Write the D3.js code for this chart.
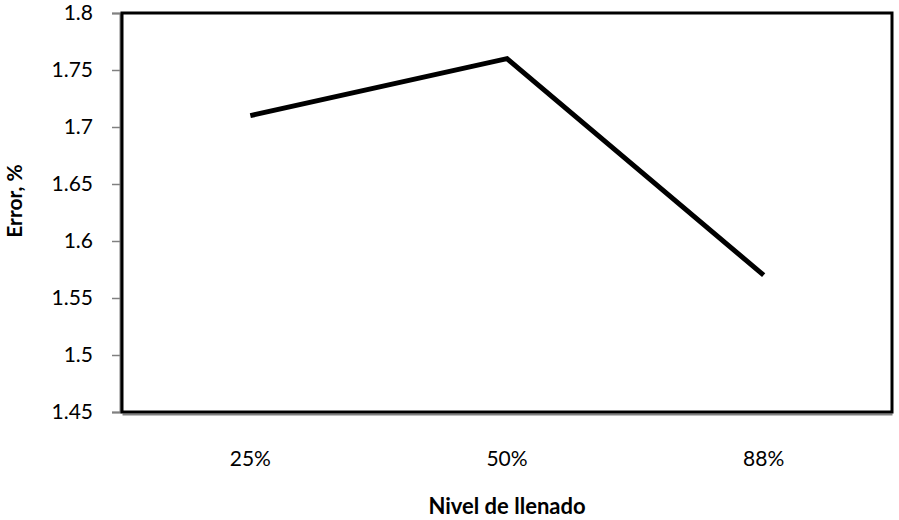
<!DOCTYPE html>
<html lang="es">
<head>
<meta charset="utf-8">
<title>Error vs nivel de llenado</title>
<script src="https://d3js.org/d3.v7.min.js"></script>
<style>
  body { margin: 0; background: #fff; }
  text { font-family: Lato, "Open Sans", sans-serif; fill: #000; }
</style>
</head>
<body>
<svg id="chart" width="899" height="520"></svg>
<script>
// datos
var niveles = ["25%", "50%", "88%"];
var errores = [1.71, 1.76, 1.57];
var yTicks = [1.45, 1.5, 1.55, 1.6, 1.65, 1.7, 1.75, 1.8];

var svg = d3.select("#chart");
var m = {left: 122, right: 892, top: 13, bottom: 412};

var x = d3.scaleBand().domain(niveles).range([m.left, m.right]);
var y = d3.scaleLinear().domain([1.45, 1.8]).range([m.bottom, m.top]);

// eje y (linea gris + marcas)
var yAxis = d3.axisLeft(y).tickValues(yTicks).tickSize(8).tickPadding(19)
  .tickFormat(function(d){ return String(+d.toFixed(2)); });
var gy = svg.append("g").attr("transform", "translate(" + (m.left - 2) + ",0)").call(yAxis);
gy.select(".domain").attr("stroke", "#808080").attr("stroke-width", 2);
gy.selectAll(".tick line").attr("stroke", "#808080").attr("stroke-width", 1.5);
gy.selectAll(".tick text").style("font-size", "21px");

// eje x
var xAxis = d3.axisBottom(x).tickSize(0).tickPadding(37);
var gx = svg.append("g").attr("transform", "translate(0," + (m.bottom + 2) + ")").call(xAxis);
gx.select(".domain").attr("stroke", "#808080").attr("stroke-width", 2);
gx.selectAll(".tick text").style("font-size", "21px");

// marco del area de trazado
svg.append("rect")
  .attr("x", m.left).attr("y", m.top)
  .attr("width", m.right - m.left).attr("height", m.bottom - m.top)
  .attr("fill", "none").attr("stroke", "#000").attr("stroke-width", 3);

// linea de la serie
var line = d3.line()
  .x(function(d, i){ return x(niveles[i]) + x.bandwidth() / 2; })
  .y(function(d){ return y(d); });
svg.append("path").datum(errores)
  .attr("d", line)
  .attr("fill", "none").attr("stroke", "#000").attr("stroke-width", 5)
  .attr("stroke-linejoin", "miter");

// titulos
svg.append("text")
  .attr("x", (m.left + m.right) / 2).attr("y", 514)
  .attr("text-anchor", "middle")
  .style("font-size", "22px").style("font-weight", "bold")
  .text("Nivel de llenado");
svg.append("text")
  .attr("transform", "translate(22,201) rotate(-90)")
  .attr("text-anchor", "middle")
  .style("font-size", "21px").style("font-weight", "bold")
  .text("Error, %");
</script>
</body>
</html>
